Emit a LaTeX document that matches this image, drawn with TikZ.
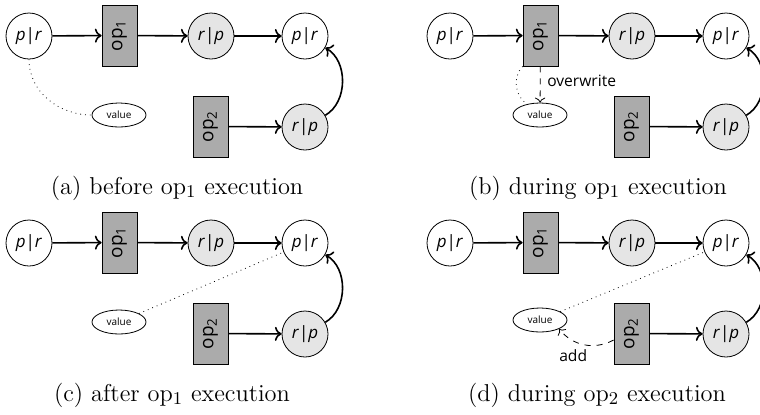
\documentclass[tikz,border=0pt]{standalone}
\usepackage{fontspec}
\setsansfont{Open Sans}
\usepackage{tikz}
\usetikzlibrary{shapes.geometric}
\usetikzlibrary{arrows.meta}
\tikzset{place/.style = {draw, circle, minimum size = 23pt, inner sep = 0,
                         font = \sffamily\fontsize{8.5}{10}\selectfont}}
\tikzset{busy/.style = {place, fill = black!10}}
\tikzset{opbox/.style = {draw, fill = black!33, minimum width = 17.5pt,
                         minimum height = 30.5pt, inner sep = 0,
                         font = \sffamily\fontsize{9.5}{11}\selectfont}}
\tikzset{val/.style = {draw, ellipse, minimum width = 27pt, minimum height = 12pt,
                       inner sep = 0, font = \sffamily\fontsize{5}{6}\selectfont}}
\tikzset{flow/.style = {->, thick}}
\tikzset{link/.style = {dotted}}
\tikzset{act/.style = {->, dashed}}
\tikzset{note/.style = {font = \sffamily\fontsize{7.8}{9}\selectfont}}
\tikzset{capt/.style = {font = \fontsize{12.2}{14}\selectfont}}
\newcommand{\pr}{\textit{p}|\textit{r}}
\newcommand{\rp}{\textit{r}|\textit{p}}
\newcommand{\opi}{\rotatebox{90}{op\textsubscript{1}}}
\newcommand{\opii}{\rotatebox{90}{op\textsubscript{2}}}

\begin{document}
\begin{tikzpicture}[x=0.5pt, y=-0.5pt]
  \useasboundingbox (0,0) rectangle (760,414);

  % (a)
  \begin{scope}
    \node[place] (pr1) at (29,36) {\pr};
    \node[opbox] (op1) at (119.5,35.5) {\opi};
    \node[busy] (rp1) at (211,36) {\rp};
    \node[place] (pr2) at (305,36) {\pr};
    \node[opbox] (op2) at (210.5,126.5) {\opii};
    \node[busy] (rp2) at (305,127) {\rp};
    \node[val] (v) at (119,115) {value};
    \draw[flow] (pr1) -- (op1);
    \draw[flow] (op1) -- (rp1);
    \draw[flow] (rp1) -- (pr2);
    \draw[flow] (op2) -- (rp2);
    \draw[flow] (rp2) to[bend right=60] (pr2);
    \draw[link] (pr1) to[out=-90,in=180] (v);
    \node[capt] (capa) at (177,188) {(a) before op$_1$ execution};
  \end{scope}

  % (b)
  \begin{scope}[shift={(421,0)}]
    \node[place] (pr1) at (29,36) {\pr};
    \node[opbox] (op1) at (119.5,35.5) {\opi};
    \node[busy] (rp1) at (211,36) {\rp};
    \node[place] (pr2) at (305,36) {\pr};
    \node[opbox] (op2) at (210.5,126.5) {\opii};
    \node[busy] (rp2) at (305,127) {\rp};
    \node[val] (v) at (119,115) {value};
    \draw[flow] (pr1) -- (op1);
    \draw[flow] (op1) -- (rp1);
    \draw[flow] (rp1) -- (pr2);
    \draw[flow] (op2) -- (rp2);
    \draw[flow] (rp2) to[bend right=60] (pr2);
    \draw[link] (op1.south west) to[bend right=50] (v.140);
    \draw[act] (op1) -- (v) node[pos=0.4,right,note] {overwrite};
    \node[capt] (capb) at (177,188) {(b) during op$_1$ execution};
  \end{scope}

  % (c)
  \begin{scope}[shift={(0,207)}]
    \node[place] (pr1) at (29,36) {\pr};
    \node[opbox] (op1) at (119.5,35.5) {\opi};
    \node[busy] (rp1) at (211,36) {\rp};
    \node[place] (pr2) at (305,36) {\pr};
    \node[opbox] (op2) at (210.5,126.5) {\opii};
    \node[busy] (rp2) at (305,127) {\rp};
    \node[val] (v) at (119,115) {value};
    \draw[flow] (pr1) -- (op1);
    \draw[flow] (op1) -- (rp1);
    \draw[flow] (rp1) -- (pr2);
    \draw[flow] (op2) -- (rp2);
    \draw[flow] (rp2) to[bend right=60] (pr2);
    \draw[link] (v) -- (pr2);
    \node[capt] (capc) at (172,188) {(c) after op$_1$ execution};
  \end{scope}

  % (d)
  \begin{scope}[shift={(421,207)}]
    \node[place] (pr1) at (29,36) {\pr};
    \node[opbox] (op1) at (119.5,35.5) {\opi};
    \node[busy] (rp1) at (211,36) {\rp};
    \node[place] (pr2) at (305,36) {\pr};
    \node[opbox] (op2) at (210.5,126.5) {\opii};
    \node[busy] (rp2) at (305,127) {\rp};
    \node[val] (v) at (119,113) {value};
    \draw[flow] (pr1) -- (op1);
    \draw[flow] (op1) -- (rp1);
    \draw[flow] (rp1) -- (pr2);
    \draw[flow] (op2) -- (rp2);
    \draw[flow] (rp2) to[bend right=60] (pr2);
    \draw[link] (v) -- (pr2);
    \draw[act] (op2.200) to[bend left=40]
      node[pos=0.7,below=1pt,note] {add} (v.-25);
    \node[capt] (capd) at (176,188) {(d) during op$_2$ execution};
  \end{scope}
\end{tikzpicture}
\end{document}
